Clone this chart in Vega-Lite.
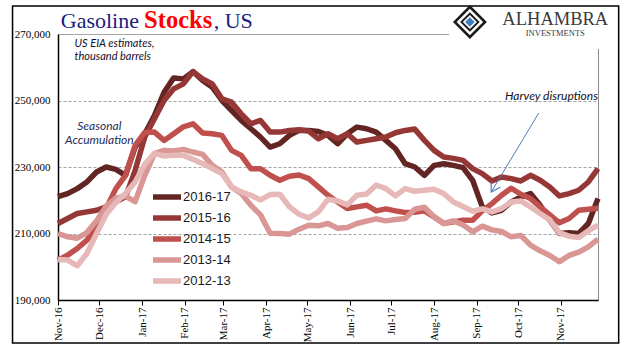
{
 "$schema": "https://vega.github.io/schema/vega-lite/v6.json",
 "width": 540,
 "height": 266,
 "autosize": {"type": "none"},
 "padding": {"left": 58, "top": 34, "right": 43, "bottom": 61},
 "background": "white",
 "config": {
  "view": {"stroke": "#8c8c8c", "strokeWidth": 1},
  "axis": {"labelFont": "Liberation Serif", "labelFontSize": 11, "labelColor": "#000", "domainColor": "#000", "domainWidth": 1.5, "tickColor": "#000", "title": null}
 },
 "layer": [
  {
   "data": {"values": [
{"week":"2016-11-01","season":"2016-17","stocks":221100},{"week":"2016-11-08","season":"2016-17","stocks":222000},{"week":"2016-11-15","season":"2016-17","stocks":223500},{"week":"2016-11-22","season":"2016-17","stocks":225500},{"week":"2016-11-29","season":"2016-17","stocks":228500},{"week":"2016-12-06","season":"2016-17","stocks":230000},{"week":"2016-12-13","season":"2016-17","stocks":229300},{"week":"2016-12-20","season":"2016-17","stocks":227500},{"week":"2016-12-27","season":"2016-17","stocks":236000},{"week":"2017-01-03","season":"2016-17","stocks":240000},{"week":"2017-01-10","season":"2016-17","stocks":245500},{"week":"2017-01-17","season":"2016-17","stocks":252500},{"week":"2017-01-24","season":"2016-17","stocks":256800},{"week":"2017-01-31","season":"2016-17","stocks":256500},{"week":"2017-02-07","season":"2016-17","stocks":258700},{"week":"2017-02-14","season":"2016-17","stocks":256000},{"week":"2017-02-21","season":"2016-17","stocks":254000},{"week":"2017-02-28","season":"2016-17","stocks":250000},{"week":"2017-03-07","season":"2016-17","stocks":247000},{"week":"2017-03-14","season":"2016-17","stocks":244000},{"week":"2017-03-21","season":"2016-17","stocks":241500},{"week":"2017-03-28","season":"2016-17","stocks":239000},{"week":"2017-04-04","season":"2016-17","stocks":236000},{"week":"2017-04-11","season":"2016-17","stocks":237000},{"week":"2017-04-18","season":"2016-17","stocks":239500},{"week":"2017-04-25","season":"2016-17","stocks":241000},{"week":"2017-05-02","season":"2016-17","stocks":241000},{"week":"2017-05-09","season":"2016-17","stocks":240700},{"week":"2017-05-16","season":"2016-17","stocks":239500},{"week":"2017-05-23","season":"2016-17","stocks":237000},{"week":"2017-05-30","season":"2016-17","stocks":240000},{"week":"2017-06-06","season":"2016-17","stocks":242000},{"week":"2017-06-13","season":"2016-17","stocks":241500},{"week":"2017-06-20","season":"2016-17","stocks":240500},{"week":"2017-06-27","season":"2016-17","stocks":238000},{"week":"2017-07-04","season":"2016-17","stocks":235500},{"week":"2017-07-11","season":"2016-17","stocks":231000},{"week":"2017-07-18","season":"2016-17","stocks":230000},{"week":"2017-07-25","season":"2016-17","stocks":227500},{"week":"2017-08-01","season":"2016-17","stocks":230500},{"week":"2017-08-08","season":"2016-17","stocks":231000},{"week":"2017-08-15","season":"2016-17","stocks":230500},{"week":"2017-08-22","season":"2016-17","stocks":229800},{"week":"2017-08-29","season":"2016-17","stocks":226000},{"week":"2017-09-05","season":"2016-17","stocks":218000},{"week":"2017-09-12","season":"2016-17","stocks":216200},{"week":"2017-09-19","season":"2016-17","stocks":217000},{"week":"2017-09-26","season":"2016-17","stocks":219500},{"week":"2017-10-03","season":"2016-17","stocks":221000},{"week":"2017-10-10","season":"2016-17","stocks":222000},{"week":"2017-10-17","season":"2016-17","stocks":218500},{"week":"2017-10-24","season":"2016-17","stocks":214000},{"week":"2017-10-31","season":"2016-17","stocks":210000},{"week":"2017-11-07","season":"2016-17","stocks":210200},{"week":"2017-11-14","season":"2016-17","stocks":210000},{"week":"2017-11-21","season":"2016-17","stocks":213000},{"week":"2017-11-28","season":"2016-17","stocks":220500},
{"week":"2016-11-01","season":"2015-16","stocks":213000},{"week":"2016-11-08","season":"2015-16","stocks":214500},{"week":"2016-11-15","season":"2015-16","stocks":216000},{"week":"2016-11-22","season":"2015-16","stocks":216500},{"week":"2016-11-29","season":"2015-16","stocks":217000},{"week":"2016-12-06","season":"2015-16","stocks":218000},{"week":"2016-12-13","season":"2015-16","stocks":219500},{"week":"2016-12-20","season":"2015-16","stocks":221000},{"week":"2016-12-27","season":"2015-16","stocks":229000},{"week":"2017-01-03","season":"2015-16","stocks":239000},{"week":"2017-01-10","season":"2015-16","stocks":244500},{"week":"2017-01-17","season":"2015-16","stocks":250000},{"week":"2017-01-24","season":"2015-16","stocks":253500},{"week":"2017-01-31","season":"2015-16","stocks":255000},{"week":"2017-02-07","season":"2015-16","stocks":258700},{"week":"2017-02-14","season":"2015-16","stocks":256500},{"week":"2017-02-21","season":"2015-16","stocks":255000},{"week":"2017-02-28","season":"2015-16","stocks":250500},{"week":"2017-03-07","season":"2015-16","stocks":249500},{"week":"2017-03-14","season":"2015-16","stocks":246000},{"week":"2017-03-21","season":"2015-16","stocks":243000},{"week":"2017-03-28","season":"2015-16","stocks":244000},{"week":"2017-04-04","season":"2015-16","stocks":240500},{"week":"2017-04-11","season":"2015-16","stocks":240500},{"week":"2017-04-18","season":"2015-16","stocks":241000},{"week":"2017-04-25","season":"2015-16","stocks":241200},{"week":"2017-05-02","season":"2015-16","stocks":240800},{"week":"2017-05-09","season":"2015-16","stocks":238500},{"week":"2017-05-16","season":"2015-16","stocks":240000},{"week":"2017-05-23","season":"2015-16","stocks":238500},{"week":"2017-05-30","season":"2015-16","stocks":240000},{"week":"2017-06-06","season":"2015-16","stocks":237500},{"week":"2017-06-13","season":"2015-16","stocks":238000},{"week":"2017-06-20","season":"2015-16","stocks":238500},{"week":"2017-06-27","season":"2015-16","stocks":239000},{"week":"2017-07-04","season":"2015-16","stocks":240300},{"week":"2017-07-11","season":"2015-16","stocks":241000},{"week":"2017-07-18","season":"2015-16","stocks":241400},{"week":"2017-07-25","season":"2015-16","stocks":238000},{"week":"2017-08-01","season":"2015-16","stocks":235000},{"week":"2017-08-08","season":"2015-16","stocks":233000},{"week":"2017-08-15","season":"2015-16","stocks":232600},{"week":"2017-08-22","season":"2015-16","stocks":232000},{"week":"2017-08-29","season":"2015-16","stocks":229500},{"week":"2017-09-05","season":"2015-16","stocks":228000},{"week":"2017-09-12","season":"2015-16","stocks":225800},{"week":"2017-09-19","season":"2015-16","stocks":227000},{"week":"2017-09-26","season":"2015-16","stocks":226500},{"week":"2017-10-03","season":"2015-16","stocks":225800},{"week":"2017-10-10","season":"2015-16","stocks":227500},{"week":"2017-10-17","season":"2015-16","stocks":226000},{"week":"2017-10-24","season":"2015-16","stocks":224000},{"week":"2017-10-31","season":"2015-16","stocks":221300},{"week":"2017-11-07","season":"2015-16","stocks":222000},{"week":"2017-11-14","season":"2015-16","stocks":223000},{"week":"2017-11-21","season":"2015-16","stocks":225500},{"week":"2017-11-28","season":"2015-16","stocks":229500},
{"week":"2016-11-01","season":"2014-15","stocks":202000},{"week":"2016-11-08","season":"2014-15","stocks":203500},{"week":"2016-11-15","season":"2014-15","stocks":205500},{"week":"2016-11-22","season":"2014-15","stocks":208000},{"week":"2016-11-29","season":"2014-15","stocks":212000},{"week":"2016-12-06","season":"2014-15","stocks":217500},{"week":"2016-12-13","season":"2014-15","stocks":223500},{"week":"2016-12-20","season":"2014-15","stocks":227500},{"week":"2016-12-27","season":"2014-15","stocks":236500},{"week":"2017-01-03","season":"2014-15","stocks":240400},{"week":"2017-01-10","season":"2014-15","stocks":240500},{"week":"2017-01-17","season":"2014-15","stocks":238000},{"week":"2017-01-24","season":"2014-15","stocks":240000},{"week":"2017-01-31","season":"2014-15","stocks":242100},{"week":"2017-02-07","season":"2014-15","stocks":243000},{"week":"2017-02-14","season":"2014-15","stocks":240200},{"week":"2017-02-21","season":"2014-15","stocks":240000},{"week":"2017-02-28","season":"2014-15","stocks":239500},{"week":"2017-03-07","season":"2014-15","stocks":235000},{"week":"2017-03-14","season":"2014-15","stocks":233500},{"week":"2017-03-21","season":"2014-15","stocks":229500},{"week":"2017-03-28","season":"2014-15","stocks":229500},{"week":"2017-04-04","season":"2014-15","stocks":227500},{"week":"2017-04-11","season":"2014-15","stocks":226000},{"week":"2017-04-18","season":"2014-15","stocks":227200},{"week":"2017-04-25","season":"2014-15","stocks":227600},{"week":"2017-05-02","season":"2014-15","stocks":226500},{"week":"2017-05-09","season":"2014-15","stocks":224000},{"week":"2017-05-16","season":"2014-15","stocks":221500},{"week":"2017-05-23","season":"2014-15","stocks":219500},{"week":"2017-05-30","season":"2014-15","stocks":217500},{"week":"2017-06-06","season":"2014-15","stocks":218000},{"week":"2017-06-13","season":"2014-15","stocks":218500},{"week":"2017-06-20","season":"2014-15","stocks":216800},{"week":"2017-06-27","season":"2014-15","stocks":217400},{"week":"2017-07-04","season":"2014-15","stocks":216800},{"week":"2017-07-11","season":"2014-15","stocks":216300},{"week":"2017-07-18","season":"2014-15","stocks":216400},{"week":"2017-07-25","season":"2014-15","stocks":216800},{"week":"2017-08-01","season":"2014-15","stocks":215000},{"week":"2017-08-08","season":"2014-15","stocks":213000},{"week":"2017-08-15","season":"2014-15","stocks":213500},{"week":"2017-08-22","season":"2014-15","stocks":214000},{"week":"2017-08-29","season":"2014-15","stocks":214000},{"week":"2017-09-05","season":"2014-15","stocks":216800},{"week":"2017-09-12","season":"2014-15","stocks":219000},{"week":"2017-09-19","season":"2014-15","stocks":221500},{"week":"2017-09-26","season":"2014-15","stocks":223600},{"week":"2017-10-03","season":"2014-15","stocks":221800},{"week":"2017-10-10","season":"2014-15","stocks":220500},{"week":"2017-10-17","season":"2014-15","stocks":218000},{"week":"2017-10-24","season":"2014-15","stocks":215600},{"week":"2017-10-31","season":"2014-15","stocks":213200},{"week":"2017-11-07","season":"2014-15","stocks":214500},{"week":"2017-11-14","season":"2014-15","stocks":217000},{"week":"2017-11-21","season":"2014-15","stocks":217300},{"week":"2017-11-28","season":"2014-15","stocks":217600},
{"week":"2016-11-01","season":"2013-14","stocks":210000},{"week":"2016-11-08","season":"2013-14","stocks":209000},{"week":"2016-11-15","season":"2013-14","stocks":208600},{"week":"2016-11-22","season":"2013-14","stocks":210300},{"week":"2016-11-29","season":"2013-14","stocks":213800},{"week":"2016-12-06","season":"2013-14","stocks":218300},{"week":"2016-12-13","season":"2013-14","stocks":220600},{"week":"2016-12-20","season":"2013-14","stocks":221200},{"week":"2016-12-27","season":"2013-14","stocks":219600},{"week":"2017-01-03","season":"2013-14","stocks":227500},{"week":"2017-01-10","season":"2013-14","stocks":234000},{"week":"2017-01-17","season":"2013-14","stocks":235000},{"week":"2017-01-24","season":"2013-14","stocks":234800},{"week":"2017-01-31","season":"2013-14","stocks":235300},{"week":"2017-02-07","season":"2013-14","stocks":234500},{"week":"2017-02-14","season":"2013-14","stocks":233800},{"week":"2017-02-21","season":"2013-14","stocks":230500},{"week":"2017-02-28","season":"2013-14","stocks":228500},{"week":"2017-03-07","season":"2013-14","stocks":224000},{"week":"2017-03-14","season":"2013-14","stocks":222000},{"week":"2017-03-21","season":"2013-14","stocks":218500},{"week":"2017-03-28","season":"2013-14","stocks":215600},{"week":"2017-04-04","season":"2013-14","stocks":210100},{"week":"2017-04-11","season":"2013-14","stocks":210000},{"week":"2017-04-18","season":"2013-14","stocks":209800},{"week":"2017-04-25","season":"2013-14","stocks":211300},{"week":"2017-05-02","season":"2013-14","stocks":212500},{"week":"2017-05-09","season":"2013-14","stocks":212300},{"week":"2017-05-16","season":"2013-14","stocks":213000},{"week":"2017-05-23","season":"2013-14","stocks":211600},{"week":"2017-05-30","season":"2013-14","stocks":211800},{"week":"2017-06-06","season":"2013-14","stocks":213000},{"week":"2017-06-13","season":"2013-14","stocks":213700},{"week":"2017-06-20","season":"2013-14","stocks":214400},{"week":"2017-06-27","season":"2013-14","stocks":213800},{"week":"2017-07-04","season":"2013-14","stocks":214200},{"week":"2017-07-11","season":"2013-14","stocks":214500},{"week":"2017-07-18","season":"2013-14","stocks":217300},{"week":"2017-07-25","season":"2013-14","stocks":217900},{"week":"2017-08-01","season":"2013-14","stocks":215000},{"week":"2017-08-08","season":"2013-14","stocks":213000},{"week":"2017-08-15","season":"2013-14","stocks":213800},{"week":"2017-08-22","season":"2013-14","stocks":212600},{"week":"2017-08-29","season":"2013-14","stocks":210500},{"week":"2017-09-05","season":"2013-14","stocks":212200},{"week":"2017-09-12","season":"2013-14","stocks":211100},{"week":"2017-09-19","season":"2013-14","stocks":210600},{"week":"2017-09-26","season":"2013-14","stocks":209000},{"week":"2017-10-03","season":"2013-14","stocks":209400},{"week":"2017-10-10","season":"2013-14","stocks":206500},{"week":"2017-10-17","season":"2013-14","stocks":204800},{"week":"2017-10-24","season":"2013-14","stocks":203400},{"week":"2017-10-31","season":"2013-14","stocks":201500},{"week":"2017-11-07","season":"2013-14","stocks":203400},{"week":"2017-11-14","season":"2013-14","stocks":204400},{"week":"2017-11-21","season":"2013-14","stocks":206000},{"week":"2017-11-28","season":"2013-14","stocks":208300},
{"week":"2016-11-01","season":"2012-13","stocks":202200},{"week":"2016-11-08","season":"2012-13","stocks":202000},{"week":"2016-11-15","season":"2012-13","stocks":200300},{"week":"2016-11-22","season":"2012-13","stocks":204000},{"week":"2016-11-29","season":"2012-13","stocks":210000},{"week":"2016-12-06","season":"2012-13","stocks":215800},{"week":"2016-12-13","season":"2012-13","stocks":219300},{"week":"2016-12-20","season":"2012-13","stocks":222000},{"week":"2016-12-27","season":"2012-13","stocks":225500},{"week":"2017-01-03","season":"2012-13","stocks":230800},{"week":"2017-01-10","season":"2012-13","stocks":234100},{"week":"2017-01-17","season":"2012-13","stocks":233300},{"week":"2017-01-24","season":"2012-13","stocks":233500},{"week":"2017-01-31","season":"2012-13","stocks":233500},{"week":"2017-02-07","season":"2012-13","stocks":232300},{"week":"2017-02-14","season":"2012-13","stocks":231000},{"week":"2017-02-21","season":"2012-13","stocks":229500},{"week":"2017-02-28","season":"2012-13","stocks":228000},{"week":"2017-03-07","season":"2012-13","stocks":224000},{"week":"2017-03-14","season":"2012-13","stocks":222500},{"week":"2017-03-21","season":"2012-13","stocks":221500},{"week":"2017-03-28","season":"2012-13","stocks":220100},{"week":"2017-04-04","season":"2012-13","stocks":221700},{"week":"2017-04-11","season":"2012-13","stocks":221800},{"week":"2017-04-18","season":"2012-13","stocks":218000},{"week":"2017-04-25","season":"2012-13","stocks":215800},{"week":"2017-05-02","season":"2012-13","stocks":214700},{"week":"2017-05-09","season":"2012-13","stocks":216500},{"week":"2017-05-16","season":"2012-13","stocks":220300},{"week":"2017-05-23","season":"2012-13","stocks":219800},{"week":"2017-05-30","season":"2012-13","stocks":218600},{"week":"2017-06-06","season":"2012-13","stocks":221500},{"week":"2017-06-13","season":"2012-13","stocks":221900},{"week":"2017-06-20","season":"2012-13","stocks":224600},{"week":"2017-06-27","season":"2012-13","stocks":223500},{"week":"2017-07-04","season":"2012-13","stocks":221300},{"week":"2017-07-11","season":"2012-13","stocks":223500},{"week":"2017-07-18","season":"2012-13","stocks":222700},{"week":"2017-07-25","season":"2012-13","stocks":223000},{"week":"2017-08-01","season":"2012-13","stocks":223300},{"week":"2017-08-08","season":"2012-13","stocks":222000},{"week":"2017-08-15","season":"2012-13","stocks":219500},{"week":"2017-08-22","season":"2012-13","stocks":218100},{"week":"2017-08-29","season":"2012-13","stocks":216700},{"week":"2017-09-05","season":"2012-13","stocks":217400},{"week":"2017-09-12","season":"2012-13","stocks":216500},{"week":"2017-09-19","season":"2012-13","stocks":217500},{"week":"2017-09-26","season":"2012-13","stocks":219500},{"week":"2017-10-03","season":"2012-13","stocks":219800},{"week":"2017-10-10","season":"2012-13","stocks":218000},{"week":"2017-10-17","season":"2012-13","stocks":216000},{"week":"2017-10-24","season":"2012-13","stocks":214100},{"week":"2017-10-31","season":"2012-13","stocks":210200},{"week":"2017-11-07","season":"2012-13","stocks":209200},{"week":"2017-11-14","season":"2012-13","stocks":208800},{"week":"2017-11-21","season":"2012-13","stocks":210800},{"week":"2017-11-28","season":"2012-13","stocks":212500}
   ]},
   "mark": {"type": "line", "strokeJoin": "round"},
   "encoding": {
    "x": {"field": "week", "type": "temporal",
     "scale": {"type": "utc", "domain": [{"year": 2016, "month": 11, "date": 1, "utc": true}, {"year": 2017, "month": 11, "date": 28, "utc": true}]},
     "axis": {"values": [
       {"year": 2016, "month": 11, "date": 1, "utc": true}, {"year": 2016, "month": 12, "date": 1, "utc": true},
       {"year": 2017, "month": 1, "date": 1, "utc": true}, {"year": 2017, "month": 2, "date": 1, "utc": true},
       {"year": 2017, "month": 3, "date": 1, "utc": true}, {"year": 2017, "month": 4, "date": 1, "utc": true},
       {"year": 2017, "month": 5, "date": 1, "utc": true}, {"year": 2017, "month": 6, "date": 1, "utc": true},
       {"year": 2017, "month": 7, "date": 1, "utc": true}, {"year": 2017, "month": 8, "date": 1, "utc": true},
       {"year": 2017, "month": 9, "date": 1, "utc": true}, {"year": 2017, "month": 10, "date": 1, "utc": true},
       {"year": 2017, "month": 11, "date": 1, "utc": true}],
      "format": "%b-%y", "labelAngle": -90, "tickSize": 5, "labelPadding": 2, "grid": false, "title": null, "labelOverlap": false}},
    "y": {"field": "stocks", "type": "quantitative",
     "scale": {"domain": [190000, 270000], "nice": false, "zero": false},
     "axis": {"values": [190000, 210000, 230000, 250000, 270000], "format": ",d", "ticks": false, "labelPadding": 8, "grid": true, "gridColor": "#a6a6a6",
      "gridDash": {"condition": {"test": "datum.value === 270000", "value": []}, "value": [3, 2]}, "title": null}},
    "color": {"field": "season", "type": "nominal",
     "scale": {"domain": ["2016-17", "2015-16", "2014-15", "2013-14", "2012-13"], "range": ["#632523", "#953735", "#C0504D", "#D99694", "#E6B9B8"]},
     "legend": {"title": null, "orient": "none", "legendX": 99, "legendY": 153, "symbolType": "M-2,0H2", "symbolSize": 196, "symbolStrokeWidth": 5,
      "labelFont": "Liberation Sans", "labelFontSize": 13, "labelColor": "#1a1a1a", "labelOffset": 6, "rowPadding": -2}},
    "strokeWidth": {"field": "season", "type": "nominal",
     "scale": {"domain": ["2016-17", "2015-16", "2014-15", "2013-14", "2012-13"], "range": [5.5, 5.5, 4.5, 4.5, 4.5]}, "legend": null}
   }
  },
  {
   "data": {"values": [{}]},
   "mark": {"type": "rect", "fill": "white", "fillOpacity": 0, "stroke": "#000", "strokeWidth": 1.5},
   "encoding": {
    "x": {"datum": {"year": 2016, "month": 9, "date": 29, "utc": true}, "type": "temporal"},
    "x2": {"datum": {"year": 2017, "month": 12, "date": 13, "utc": true}},
    "y": {"datum": 278400, "type": "quantitative"},
    "y2": {"datum": 177100}
   }
  },
  {
   "data": {"values": [{}]},
   "mark": {"type": "rect", "fill": "white", "strokeWidth": 0},
   "encoding": {
    "x": {"datum": {"year": 2017, "month": 8, "date": 12, "utc": true}, "type": "temporal"},
    "x2": {"datum": {"year": 2017, "month": 12, "date": 10, "utc": true}},
    "y": {"datum": 277800, "type": "quantitative"},
    "y2": {"datum": 265500}
   }
  },
  {
   "data": {"values": [{}]},
   "mark": {"type": "point", "shape": "diamond", "filled": true, "opacity": 1, "color": "#1a1a1a", "size": 1150},
   "encoding": {"x": {"datum": {"year": 2017, "month": 8, "date": 27, "utc": true}, "type": "temporal"}, "y": {"datum": 273600, "type": "quantitative"}}
  },
  {
   "data": {"values": [{}]},
   "mark": {"type": "point", "shape": "diamond", "filled": true, "opacity": 1, "color": "#ffffff", "size": 700},
   "encoding": {"x": {"datum": {"year": 2017, "month": 8, "date": 27, "utc": true}, "type": "temporal"}, "y": {"datum": 273600, "type": "quantitative"}}
  },
  {
   "data": {"values": [{}]},
   "mark": {"type": "point", "shape": "diamond", "filled": true, "opacity": 1, "color": "#1a1a1a", "size": 380},
   "encoding": {"x": {"datum": {"year": 2017, "month": 8, "date": 27, "utc": true}, "type": "temporal"}, "y": {"datum": 273600, "type": "quantitative"}}
  },
  {
   "data": {"values": [{}]},
   "mark": {"type": "point", "shape": "diamond", "filled": true, "opacity": 1, "color": "#ffffff", "size": 200},
   "encoding": {"x": {"datum": {"year": 2017, "month": 8, "date": 27, "utc": true}, "type": "temporal"}, "y": {"datum": 273600, "type": "quantitative"}}
  },
  {
   "data": {"values": [{}]},
   "mark": {"type": "point", "shape": "diamond", "filled": true, "opacity": 1, "color": "#3b7dc4", "size": 90},
   "encoding": {"x": {"datum": {"year": 2017, "month": 8, "date": 27, "utc": true}, "type": "temporal"}, "y": {"datum": 273600, "type": "quantitative"}}
  },
  {
   "data": {"values": [{}]},
   "mark": {"type": "text", "text": "ALHAMBRA", "font": "Liberation Serif", "fontSize": 18.5, "color": "#3a3a3a", "align": "center", "baseline": "alphabetic"},
   "encoding": {
    "x": {"datum": {"year": 2017, "month": 10, "date": 28, "utc": true}, "type": "temporal"},
    "y": {"datum": 272800, "type": "quantitative"}
   }
  },
  {
   "data": {"values": [{}]},
   "mark": {"type": "text", "text": "INVESTMENTS", "font": "Liberation Serif", "fontSize": 8.5, "color": "#3a3a3a", "align": "center", "baseline": "alphabetic"},
   "encoding": {
    "x": {"datum": {"year": 2017, "month": 10, "date": 28, "utc": true}, "type": "temporal"},
    "y": {"datum": 269450, "type": "quantitative"}
   }
  },
  {
   "data": {"values": [{}]},
   "mark": {"type": "text", "text": "Gasoline", "font": "Liberation Serif", "fontSize": 22, "color": "#1c1c80", "align": "left", "baseline": "alphabetic"},
   "encoding": {
    "x": {"datum": {"year": 2016, "month": 11, "date": 3, "utc": true}, "type": "temporal"},
    "y": {"datum": 271800, "type": "quantitative"}
   }
  },
  {
   "data": {"values": [{}]},
   "mark": {"type": "text", "text": "Stocks", "font": "Liberation Serif", "fontSize": 24.5, "fontWeight": "bold", "color": "#ff0000", "align": "left", "baseline": "alphabetic"},
   "encoding": {
    "x": {"datum": {"year": 2017, "month": 1, "date": 2, "hours": 12, "utc": true}, "type": "temporal"},
    "y": {"datum": 271800, "type": "quantitative"}
   }
  },
  {
   "data": {"values": [{}]},
   "mark": {"type": "text", "text": ", US", "font": "Liberation Serif", "fontSize": 22, "color": "#1c1c80", "align": "left", "baseline": "alphabetic"},
   "encoding": {
    "x": {"datum": {"year": 2017, "month": 2, "date": 22, "utc": true}, "type": "temporal"},
    "y": {"datum": 271800, "type": "quantitative"}
   }
  },
  {
   "data": {"values": [{}]},
   "mark": {"type": "text", "text": ["US EIA estimates,", "thousand barrels"], "font": "Lato", "fontStyle": "italic", "fontSize": 11, "lineHeight": 13, "color": "#10102e", "align": "left", "baseline": "alphabetic"},
   "encoding": {
    "x": {"datum": {"year": 2016, "month": 11, "date": 13, "utc": true}, "type": "temporal"},
    "y": {"datum": 266100, "type": "quantitative"}
   }
  },
  {
   "data": {"values": [{}]},
   "mark": {"type": "text", "text": ["Seasonal", "Accumulation"], "font": "Lato", "fontStyle": "italic", "fontSize": 12, "lineHeight": 13.5, "color": "#1f2d5a", "align": "center", "baseline": "alphabetic"},
   "encoding": {
    "x": {"datum": {"year": 2016, "month": 12, "date": 1, "utc": true}, "type": "temporal"},
    "y": {"datum": 241100, "type": "quantitative"}
   }
  },
  {
   "data": {"values": [{}]},
   "mark": {"type": "text", "text": "Harvey disruptions", "font": "Lato", "fontStyle": "italic", "fontSize": 12, "color": "#111122", "align": "right", "baseline": "alphabetic"},
   "encoding": {
    "x": {"datum": {"year": 2017, "month": 11, "date": 28, "utc": true}, "type": "temporal"},
    "y": {"datum": 250150, "type": "quantitative"}
   }
  },
  {
   "data": {"values": [{}]},
   "mark": {"type": "rule", "color": "#4a7ebb", "strokeWidth": 1},
   "encoding": {
    "x": {"datum": {"year": 2017, "month": 10, "date": 16, "utc": true}, "type": "temporal"},
    "y": {"datum": 246240, "type": "quantitative"},
    "x2": {"datum": {"year": 2017, "month": 9, "date": 11, "hours": 12, "utc": true}},
    "y2": {"datum": 222470}
   }
  },
  {
   "data": {"values": [{}]},
   "mark": {"type": "point", "shape": "M-0.6,-1L0,0L0.6,-1", "filled": false, "color": "#4a7ebb", "strokeWidth": 1.2, "size": 300, "angle": 30.6, "opacity": 1},
   "encoding": {
    "x": {"datum": {"year": 2017, "month": 9, "date": 11, "hours": 12, "utc": true}, "type": "temporal"},
    "y": {"datum": 222470, "type": "quantitative"}
   }
  }
 ]
}
